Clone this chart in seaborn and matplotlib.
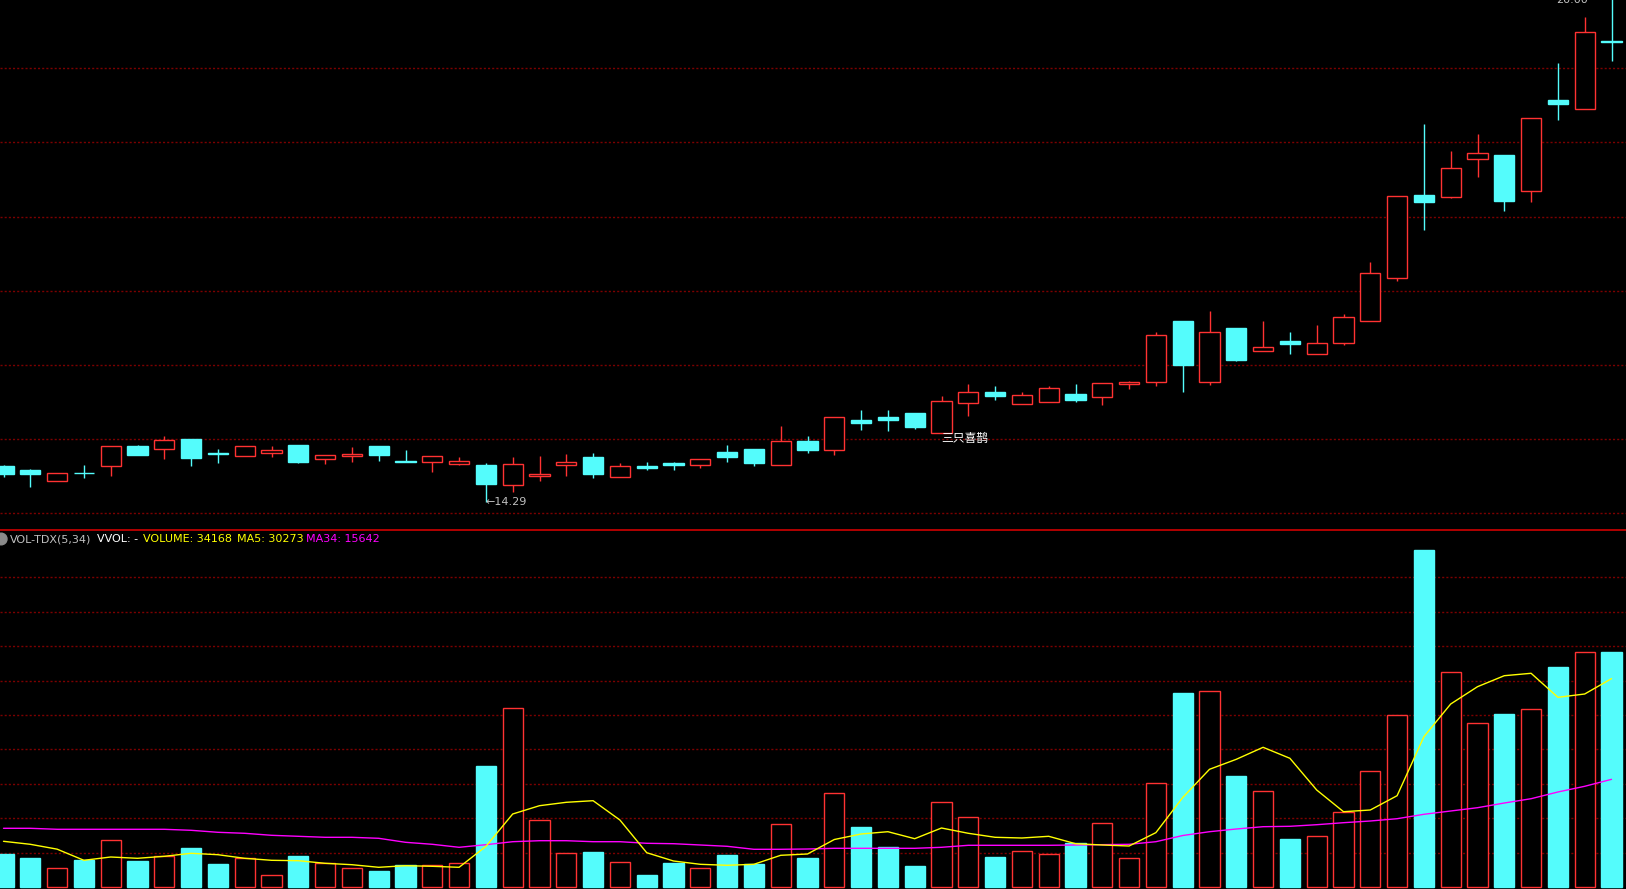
import numpy as np
import pandas as pd
import matplotlib
matplotlib.use("Agg")
import matplotlib.pyplot as plt
import seaborn as sns
from matplotlib.patches import Circle
from matplotlib.lines import Line2D

# ---------------- data ----------------
opens = [14.69, 14.65, 14.52, 14.62, 14.69, 14.92, 14.89, 15.00, 14.84, 14.81,
         14.84, 14.93, 14.77, 14.81, 14.92, 14.75, 14.74, 14.72, 14.71, 14.48,
         14.58, 14.70, 14.80, 14.57, 14.69, 14.73, 14.70, 14.85, 14.89, 14.70,
         14.98, 14.87, 15.21, 15.25, 15.29, 15.07, 15.41, 15.53, 15.40, 15.42,
         15.51, 15.48, 15.62, 15.64, 16.33, 15.64, 16.26, 16.00, 16.11, 15.96,
         16.09, 16.33, 16.82, 17.76, 17.74, 18.17, 18.21, 17.81, 18.84, 18.73,
         19.50]
highs = [14.70, 14.66, 14.62, 14.71, 14.92, 14.93, 15.03, 15.00, 14.89, 14.92,
         14.92, 14.93, 14.82, 14.91, 14.92, 14.88, 14.81, 14.80, 14.73, 14.80,
         14.81, 14.83, 14.84, 14.73, 14.74, 14.74, 14.77, 14.93, 14.89, 15.15,
         15.03, 15.25, 15.33, 15.33, 15.29, 15.49, 15.62, 15.60, 15.53, 15.60,
         15.62, 15.63, 15.66, 16.21, 16.33, 16.45, 16.26, 16.33, 16.21, 16.29,
         16.41, 17.00, 17.75, 18.56, 18.26, 18.45, 18.21, 18.63, 19.25, 19.77,
         20.00]
lows = [14.57, 14.46, 14.52, 14.56, 14.58, 14.82, 14.77, 14.69, 14.73, 14.81,
        14.80, 14.73, 14.72, 14.74, 14.75, 14.74, 14.63, 14.71, 14.29, 14.40,
        14.53, 14.58, 14.56, 14.57, 14.65, 14.65, 14.67, 14.74, 14.69, 14.70,
        14.84, 14.82, 15.10, 15.09, 15.11, 15.07, 15.26, 15.44, 15.40, 15.42,
        15.42, 15.38, 15.57, 15.60, 15.53, 15.61, 15.88, 15.99, 15.96, 15.96,
        16.06, 16.33, 16.79, 17.36, 17.73, 17.96, 17.58, 17.68, 18.61, 18.73,
        19.28]
closes = [14.60, 14.60, 14.62, 14.61, 14.92, 14.82, 14.99, 14.78, 14.83, 14.92,
          14.88, 14.74, 14.82, 14.83, 14.82, 14.74, 14.81, 14.75, 14.49, 14.72,
          14.60, 14.74, 14.60, 14.69, 14.67, 14.71, 14.77, 14.80, 14.73, 14.98,
          14.88, 15.25, 15.18, 15.21, 15.14, 15.43, 15.53, 15.49, 15.50, 15.58,
          15.44, 15.63, 15.64, 16.18, 15.84, 16.21, 15.89, 16.04, 16.07, 16.09,
          16.38, 16.88, 17.75, 17.68, 18.06, 18.23, 17.69, 18.63, 18.79, 19.60,
          19.49]
volumes = [4795, 4214, 2712, 3923, 6780, 3778, 4456, 5667, 3342, 4214,
           1695, 4504, 3487, 2761, 2325, 3197, 3148, 3439, 17581, 25965,
           9686, 4891, 5086, 3584, 1744, 3487, 2712, 4650, 3342, 9105,
           4214, 13610, 8718, 5812, 3051, 12302, 10121, 4359, 5182, 4746,
           6393, 9250, 4165, 15064, 28188, 28430, 16128, 13905, 6974, 7367,
           10854, 16811, 24948, 48966, 31196, 23786, 25137, 25820, 31966, 34102,
           34168]
ma5 = [6640, 6204, 5500, 3880, 4359, 4170, 4461, 4897, 4693, 4170,
       3880, 3821, 3444, 3240, 2862, 3095, 3008, 2862, 5900, 10607,
       11813, 12307, 12540, 9735, 4984, 3778, 3298, 3153, 3298, 4606,
       4795, 6900, 7701, 8035, 7018, 8573, 7803, 7222, 7120, 7367,
       6291, 6103, 5957, 7900, 13000, 17102, 18555, 20298, 18700, 14094,
       10941, 11188, 13266, 21838, 26590, 29104, 30702, 31051, 27563, 28043,
       30273]
ma34 = [8529, 8529, 8384, 8384, 8384, 8384, 8384, 8238, 7948, 7803,
        7512, 7367, 7221, 7221, 7076, 6495, 6204, 5768, 6146, 6582,
        6727, 6727, 6582, 6582, 6350, 6291, 6103, 5914, 5478, 5478,
        5521, 5623, 5623, 5623, 5623, 5768, 6059, 6059, 6059, 6059,
        6103, 6150, 6204, 6582, 7480, 8035, 8427, 8762, 8820, 9052,
        9343, 9590, 9924, 10563, 11043, 11522, 12205, 12830, 13804, 14632,
        15642]
pattern_index = 35
pattern_label = "三只喜鹊"

# ---------------- style ----------------
RED = "#ff3232"
CYAN = "#54fcfc"
YELLOW = "#ffff00"
MAGENTA = "#ff00ff"
GRID = "#7c0000"
LABEL = "#c0c0c0"

sns.set_style("dark", rc={"axes.facecolor": "black", "figure.facecolor": "black",
                          "axes.grid": False, "axes.edgecolor": "black"})
plt.rcParams['font.family'] = ['DejaVu Sans', 'Noto Sans CJK SC']

W, H = 1626, 889
fig = plt.figure(figsize=(W / 100, H / 100), dpi=100)
split = 530
ax_p = fig.add_axes([0, (H - split) / H, 1, split / H])
ax_v = fig.add_axes([0, 0, 1, (H - split) / H])

step, x0 = 26.8, 3.5
xlim = (-x0 / step, (W - x0) / step)

df = pd.DataFrame({"open": opens, "high": highs, "low": lows, "close": closes,
                   "volume": volumes, "ma5": ma5, "ma34": ma34})
df["idx"] = np.arange(len(df))
up = (df["close"] > df["open"]).to_numpy()
edge_colors = np.where(up, RED, CYAN)
face_colors = np.where(up, "black", CYAN)
bw = 0.76

# ---------------- price pane ----------------
price_top, price_bottom = 19.966, 13.970
ax_p.set_xlim(*xlim)
ax_p.set_ylim(price_bottom, price_top)
grid_levels = np.linspace(14.159, 19.194, 7)
ax_p.hlines(grid_levels, xlim[0], xlim[1], colors=GRID, linestyles=(0, (1.5, 1.5)),
            lw=1, zorder=1)
ax_p.vlines(df["idx"], df["low"], df["high"], colors=edge_colors, lw=1, zorder=2)
body_bottom = np.minimum(df["open"], df["close"])
body_h = np.maximum((df["close"] - df["open"]).abs(), 0.004)
ax_p.bar(df["idx"], body_h, bottom=body_bottom, width=bw, color=face_colors,
         edgecolor=edge_colors, linewidth=1, zorder=3)

lo_i = int(np.argmin(lows))
ax_p.text(lo_i, lows[lo_i], "←" + f"{lows[lo_i]:.2f}", color=LABEL, fontsize=8,
          ha="left", va="center", zorder=5)
hi_i = int(np.argmax(highs))
# the high label sits at the top edge of the pane and is partly cut off, as in the original
ax_p.text(hi_i - 0.88, price_top + 0.005, f"{highs[hi_i]:.2f}", color=LABEL, fontsize=8,
          ha="right", va="center", zorder=5)
ax_p.text(pattern_index, 15.01, pattern_label, color="white", fontsize=8.5,
          ha="left", va="center", family=['Noto Sans CJK SC', 'DejaVu Sans'], zorder=5)

# ---------------- volume pane ----------------
ax_v.set_xlim(*xlim)
ax_v.set_ylim(-290.6, 51872)
ax_v.hlines(np.arange(5000, 50000, 5000), xlim[0], xlim[1], colors=GRID,
            linestyles=(0, (1.5, 1.5)), lw=1, zorder=1)
ax_v.bar(df["idx"], df["volume"], width=bw, color=face_colors,
         edgecolor=edge_colors, linewidth=1, zorder=2)
sns.lineplot(data=df, x="idx", y="ma34", ax=ax_v, color=MAGENTA, lw=1, zorder=4)
sns.lineplot(data=df, x="idx", y="ma5", ax=ax_v, color=YELLOW, lw=1, zorder=5)

for ax in (ax_p, ax_v):
    ax.set_xticks([])
    ax.set_yticks([])
    ax.set_xlabel("")
    ax.set_ylabel("")
    for s in ax.spines.values():
        s.set_visible(False)

# separator line and legend line
fig.add_artist(Line2D([0, 1], [1 - 530 / H] * 2, transform=fig.transFigure,
                      color="#c00000", lw=1.3))
fig.add_artist(Circle((0.012, (H - 539) / 100), 0.058, transform=fig.dpi_scale_trans,
                      color="#8a8a8a"))
ly = 1 - 539 / H
parts = [("VOL-TDX(5,34)", 10, LABEL),
         ("VVOL: -", 97, "white"),
         (f"VOLUME: {volumes[-1]}", 143, YELLOW),
         (f"MA5: {ma5[-1]}", 237, YELLOW),
         (f"MA34: {ma34[-1]}", 306, MAGENTA)]
for s, px, c in parts:
    fig.text(px / W, ly, s, color=c, fontsize=8, ha="left", va="center")

fig.savefig("out.png", dpi=100, facecolor="black")
